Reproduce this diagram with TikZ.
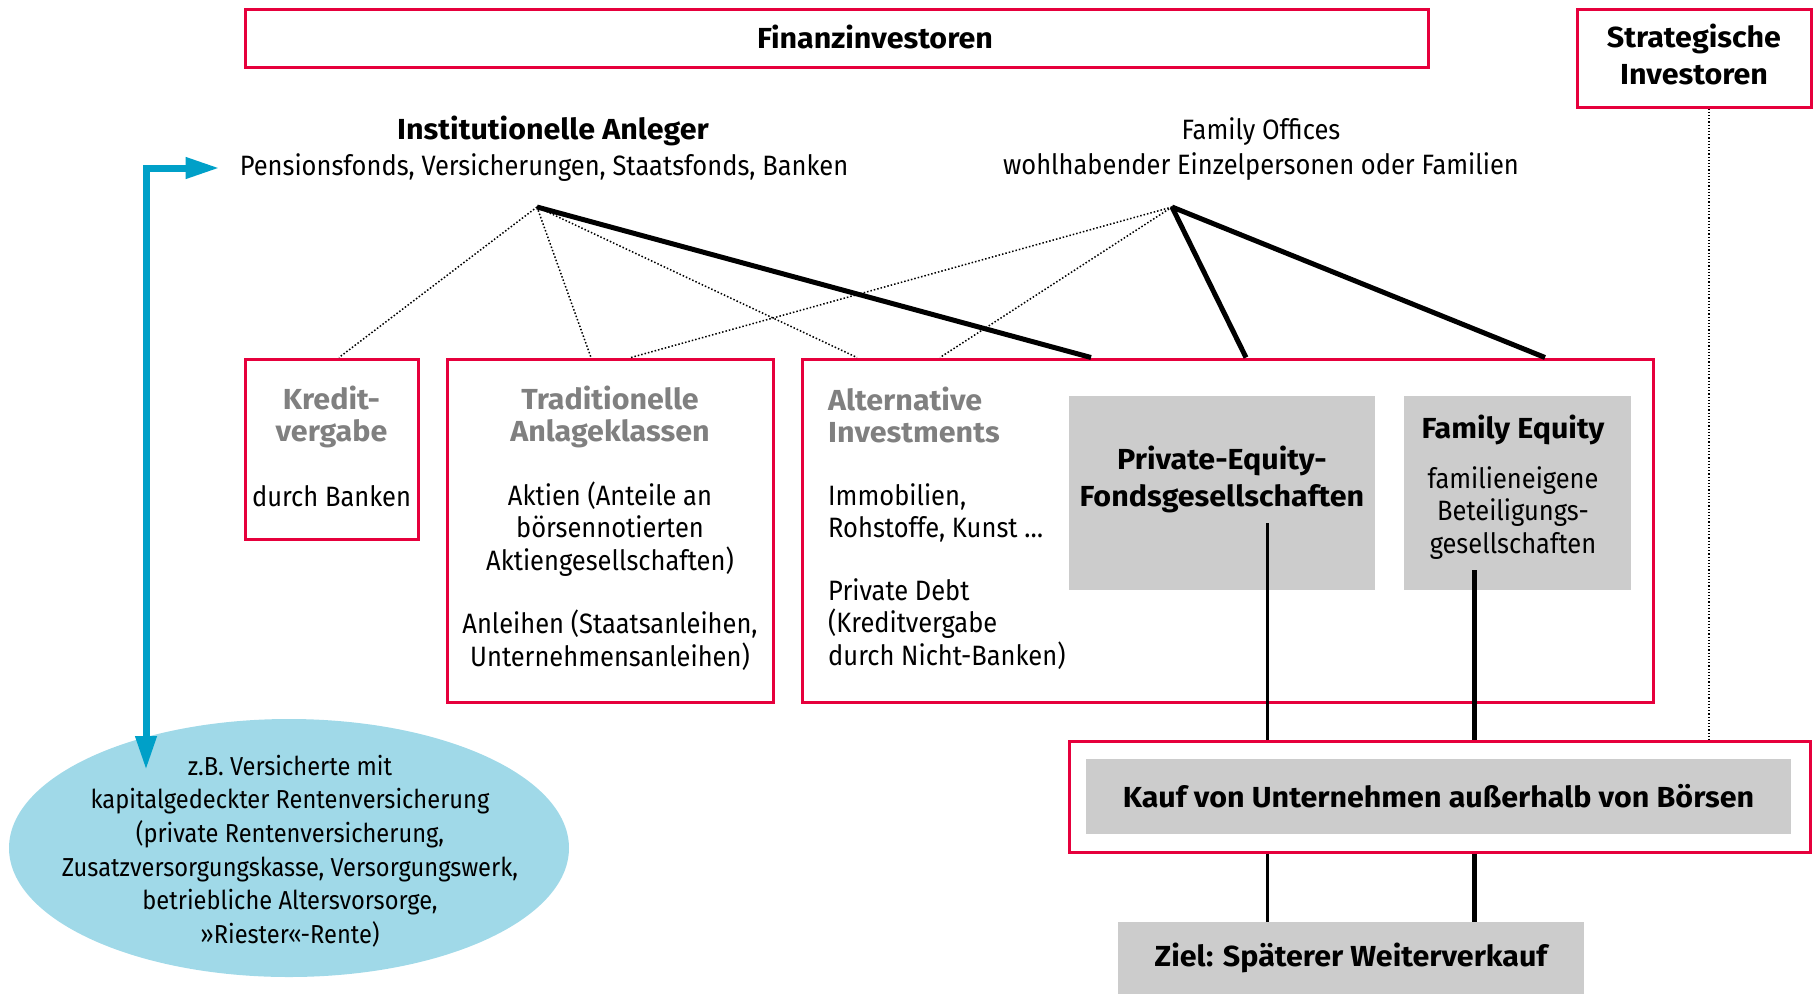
\documentclass[tikz,border=0pt]{standalone}
\usepackage{fontspec}
\setmainfont{Fira Sans}[FakeStretch=0.91]
\newfontfamily\hdfont{Fira Sans}[FakeStretch=1.05]
\usetikzlibrary{shapes.geometric,arrows.meta}
\definecolor{boxred}{RGB}{230,0,60}
\definecolor{arrblue}{RGB}{0,160,200}
\definecolor{ellblue}{RGB}{160,217,232}
\definecolor{boxgray}{RGB}{204,204,204}
\definecolor{headgray}{RGB}{128,128,128}
\def\dthick{\draw[line width=5pt]}
\def\ddots{\draw[dotted,line width=1.5pt]}
\tikzset{
  txt/.style={inner sep=0pt,align=center,font=\fontsize{28}{32.5}\selectfont},
  hd/.style={txt,font=\fontsize{29}{32}\selectfont\hdfont\bfseries},
  ghd/.style={hd,text=headgray},
  redbox/.style={draw=boxred,line width=3pt,inner sep=0pt},
  graybox/.style={fill=boxgray,inner sep=0pt},
  bluearrow/.style={draw=arrblue,line width=7pt,
    {Triangle[length=34pt,width=20pt]}-{Triangle[length=34pt,width=20pt]}}
}

\begin{document}
\begin{tikzpicture}[x=1pt,y=-1pt]
\useasboundingbox (0,0) rectangle (1816,994);
% investoren
\node[redbox,minimum width=1183pt,minimum height=58pt] (finanz) at (836.5,38) {};
\node[hd] (finanzT) at (875,36.5) {Finanzinvestoren};
\node[redbox,minimum width=234pt,minimum height=98pt] (strat) at (1694,58) {};
\node[hd] (stratT) at (1694,54.5) {Strategische\\[5pt]Investoren};
\node[hd] (instT) at (553,131) {Institutionelle Anleger};
\node[txt] (instS) at (544,168) {Pensionsfonds, Versicherungen, Staatsfonds, Banken};
\node[txt] (famT) at (1261,132) {Family Offices};
\node[txt] (famS) at (1261,167) {wohlhabender Einzelpersonen oder Familien};
\coordinate (instapex) at (537,207);
\coordinate (famapex) at (1172,207);
% anlageklassen
\node[redbox,minimum width=173pt,minimum height=180pt] (kredit) at (331.5,449) {};
\node[redbox,minimum width=326pt,minimum height=343pt] (trad) at (610,530.5) {};
\node[redbox,minimum width=851pt,minimum height=343pt] (alt) at (1227.5,530.5) {};
\node[graybox,minimum width=306pt,minimum height=194pt] (pe) at (1222,493) {};
\node[graybox,minimum width=227pt,minimum height=194pt] (fe) at (1517.5,493) {};
\node[ghd] (kreditH) at (331.5,417) {Kredit-\\vergabe};
\node[txt] (kreditS) at (331.5,496) {durch Banken};
\node[ghd] (tradH) at (610,417) {Traditionelle\\Anlageklassen};
\node[txt] (tradS) at (610,529) {Aktien (Anteile an\\börsennotierten\\Aktiengesellschaften)};
\node[txt] (tradA) at (610,640) {Anleihen (Staatsanleihen,\\Unternehmensanleihen)};
\node[ghd,align=left,anchor=west] (altH) at (828,415) {Alternative\\Investments};
\node[txt,align=left,anchor=west] (altS) at (828,513) {Immobilien,\\Rohstoffe, Kunst \dots};
\node[txt,align=left,anchor=west] (altD) at (828,624) {Private Debt\\(Kreditvergabe\\durch Nicht-Banken)};
\node[hd] (peT) at (1222,479) {Private-Equity-\\[5pt]Fondsgesellschaften};
\node[hd] (feT) at (1513,430) {Family Equity};
\node[txt] (feS) at (1513,513) {familieneigene\\Beteiligungs-\\gesellschaften};
% verbindungen
\ddots (instapex) -- ([xshift=7.5pt]kredit.north);
\ddots (instapex) -- ([xshift=-19pt]trad.north);
\ddots (instapex) -- ([xshift=-370.5pt]alt.north);
\ddots (famapex) -- ([xshift=21pt]trad.north);
\ddots (famapex) -- ([xshift=-287.5pt]alt.north);
\dthick (instapex) -- ([xshift=-136.5pt]alt.north);
\dthick (famapex) -- ([xshift=18.5pt]alt.north);
\dthick (famapex) -- ([xshift=317.5pt]alt.north);
% kauf
\node[redbox,minimum width=741pt,minimum height=111pt] (kaufout) at (1439.5,796.5) {};
\node[graybox,hd,minimum width=705pt,minimum height=75pt] (kauf) at (1438.5,796.5) {Kauf von Unternehmen außerhalb von Börsen};
\node[graybox,hd,minimum width=466pt,minimum height=72pt] (ziel) at (1351,958) {Ziel: Späterer Weiterverkauf};
\coordinate (pefoot) at (1267,523);
\coordinate (fefoot) at (1474,570);
\draw[line width=3pt] (pefoot) -- (pefoot |- kaufout.north);
\draw[line width=3pt] (pefoot |- kaufout.south) -- (pefoot |- ziel.north);
\draw[line width=5pt] (fefoot) -- (fefoot |- kaufout.north);
\draw[line width=5pt] (fefoot |- kaufout.south) -- (fefoot |- ziel.north);
\draw[dotted,line width=1.2pt] ([xshift=15pt]strat.south) -- ([xshift=15pt]strat.south |- kaufout.north);
% versicherte
\node[ellipse,fill=ellblue,minimum width=560pt,minimum height=258pt,inner sep=0pt] (vers) at (289,848) {};
\node[txt,font=\fontsize{26}{33.6}\selectfont] (versT) at (290,851) {z.B. Versicherte mit\\kapitalgedeckter Rentenversicherung\\(private Rentenversicherung,\\Zusatzversorgungskasse, Versorgungswerk,\\betriebliche Altersvorsorge,\\»Riester«-Rente)};
\coordinate (elltip) at (146,770);
\draw[bluearrow,shorten <=20pt] (instS.west) -| (elltip);
\end{tikzpicture}
\end{document}
